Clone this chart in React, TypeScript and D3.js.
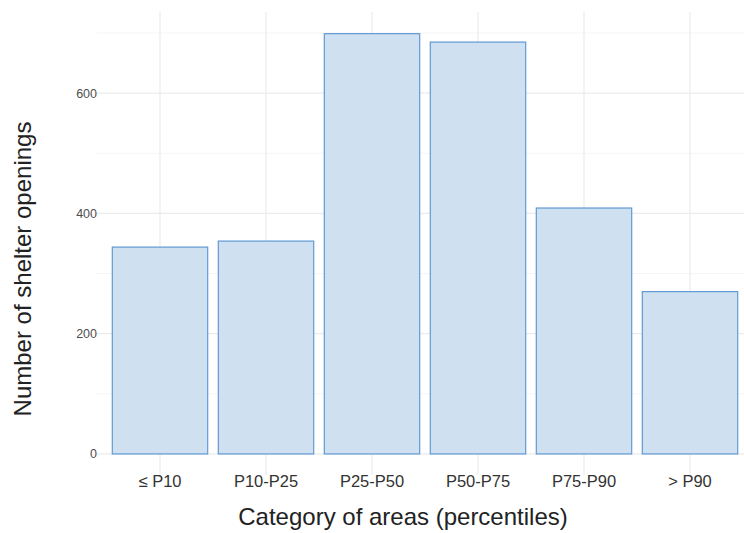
import React from "react";
import * as d3 from "d3";

const categories = ["≤ P10", "P10-P25", "P25-P50", "P50-P75", "P75-P90", "> P90"];
const values = [344, 354, 699, 685, 409, 270];
const yTicks = [0, 200, 400, 600];
const yMinorTicks = [100, 300, 500, 700];
const xTitle = "Category of areas (percentiles)";
const yTitle = "Number of shelter openings";

const W = 744;
const H = 533;
const FONT = "'Liberation Sans', Arial, sans-serif";

export default function App() {
  const x = d3
    .scaleBand<string>()
    .domain(categories)
    .range([96.4, 753.6])
    .paddingInner(0.1)
    .paddingOuter(0.15);
  const y = d3.scaleLinear().domain([-35, 735]).range([475, 12]);
  const step = x.step();
  const panelTop = y(735);
  const panelBottom = y(-35);
  const panelLeft = 96.4;
  const panelRight = 753.6;

  return (
    <svg
      width={W}
      height={H}
      style={{ position: "absolute", left: 0, top: 0, background: "#fff" }}
      fontFamily={FONT}
    >
      <rect x={0} y={0} width={W} height={H} fill="#fff" />
      {/* minor grid */}
      {yMinorTicks.map((t) => (
        <line key={"mn" + t} x1={panelLeft} x2={panelRight} y1={y(t)} y2={y(t)} stroke="#f2f2f2" strokeWidth={0.8} />
      ))}
      {/* major grid */}
      {yTicks.map((t) => (
        <line key={"mj" + t} x1={panelLeft} x2={panelRight} y1={y(t)} y2={y(t)} stroke="#ebebeb" strokeWidth={1.2} />
      ))}
      {categories.map((c) => {
        const cx = (x(c) as number) + x.bandwidth() / 2;
        return (
          <line key={"vg" + c} x1={cx} x2={cx} y1={panelTop} y2={panelBottom} stroke="#ebebeb" strokeWidth={1.2} />
        );
      })}
      {/* bars */}
      {categories.map((c, i) => (
        <rect
          key={"b" + c}
          x={x(c) as number}
          y={y(values[i])}
          width={x.bandwidth()}
          height={y(0) - y(values[i])}
          fill="#cfe0f1"
          stroke="#5f9ad3"
          strokeWidth={1.2}
        />
      ))}
      {/* y tick labels */}
      {yTicks.map((t) => (
        <text key={"yt" + t} x={97} y={y(t)} dy="0.35em" textAnchor="end" fontSize={12.5} fill="#4d4d4d">
          {t}
        </text>
      ))}
      {/* x tick labels */}
      {categories.map((c) => {
        const cx = (x(c) as number) + x.bandwidth() / 2;
        return (
          <text key={"xt" + c} x={cx} y={487} textAnchor="middle" fontSize={16.5} fill="#333">
            {c}
          </text>
        );
      })}
      {/* axis titles */}
      <text x={403} y={525} textAnchor="middle" fontSize={24} fill="#222">
        {xTitle}
      </text>
      <text
        transform={`translate(31, 269) rotate(-90)`}
        textAnchor="middle"
        fontSize={24}
        fill="#222"
      >
        {yTitle}
      </text>
    </svg>
  );
}
